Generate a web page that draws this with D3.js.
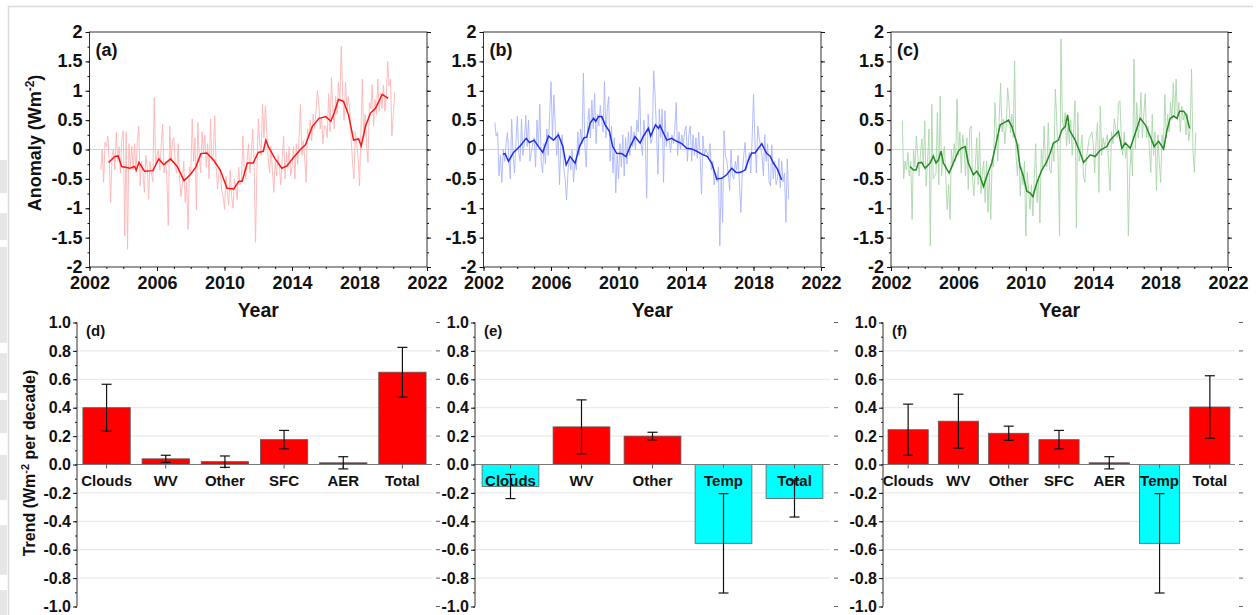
<!DOCTYPE html>
<html><head><meta charset="utf-8">
<script src="https://cdn.jsdelivr.net/npm/d3@7"></script>
<style>
html,body{margin:0;padding:0;background:#fff;}
svg{display:block;font-family:"Liberation Sans",Arial,Helvetica,sans-serif;font-weight:bold;}
</style></head><body>
<svg id="chart" width="1260" height="615"></svg>
<script>
// ---------------- DATA ----------------
// monthly anomalies, Sep 2002 .. Feb 2020
const rawStart = 2002.67;
const rawA = [
 -0.34, 0.00, -0.56, 0.12,
 0.05, 0.23, -0.20, -0.90, -0.10, 0.00, -0.35, 0.29, -0.20, 0.05, -0.40, 0.20,
 0.32, -1.47, 0.30, -1.70, 0.10, -0.30, 0.05, -0.35, 0.10, -0.40, 0.15, 0.40,
 -0.62, -0.20, -0.40, -0.73, -0.10, -0.30, -0.85, -0.20, -0.40, -0.55, 0.88, -0.25,
 -0.10, 0.00, -0.35, 0.10, 0.43, -0.40, -0.20, -0.50, -1.30, 0.40, -0.20, 0.15,
 0.20, -0.30, -0.40, 0.10, -0.50, -0.80, -0.60, -0.20, -0.90, -0.55, -1.36, -0.30,
 -0.40, 0.52, -0.20, 0.20, -1.03, 0.46, -0.10, -0.40, 0.30, -0.05, 0.25, -0.30,
 0.10, -0.50, 0.52, -0.20, -0.10, 0.57, -0.30, -0.67, -0.40, -0.35, -0.70, -0.80,
 -1.02, -0.45, -0.75, -0.95, -0.35, -0.80, -1.00, -0.50, -0.65, -0.85, -0.30, -0.60,
 -0.55, 0.23, -0.30, -0.50, -0.20, 0.10, -0.40, -0.10, 0.35, -0.20, -1.58, -0.35,
 0.52, 0.10, -0.10, 0.77, 0.20, 0.74, 0.30, -0.15, -0.40, 0.05, -0.35, -0.73,
 -0.20, -0.45, -0.10, -0.28, -0.60, -0.15, 0.23, -0.50, -0.05, -0.30, 0.05, -0.45,
 -0.30, 0.05, -0.50, 0.10, -0.25, 0.20, 0.77, -0.10, 0.15, -0.15, -0.56, 0.35,
 0.20, 0.50, 0.15, 0.60, 0.35, 0.65, 1.00, 0.80, 0.35, 0.55, 0.10, 0.40,
 0.40, 0.20, 0.95, 0.30, 1.22, 0.70, 0.35, 0.90, 0.60, 1.14, 0.85, 1.76,
 0.90, 0.50, 1.15, 0.65, 0.90, 0.70, 0.20, -0.22, -0.50, 0.30, 0.10, -0.15,
 -0.62, 0.30, 1.20, 0.20, 0.60, 0.10, -0.22, 0.80, 0.70, 1.10, 0.40, 0.85,
 0.60, 1.20, 0.65, 0.95, 0.70, 1.10, 0.65, 0.90, 1.50, 1.08, 1.20, 0.23,
 0.60, 0.97
];
const rawB = [
 0.46, 0.23, 0.29, -0.45,
 -0.10, -0.56, 0.00, -0.20, 0.10, 0.29, -0.15, -0.50, 0.52, -0.10, -0.40, 0.10,
 0.57, -0.05, -0.20, 0.52, -0.10, 0.10, 0.58, 0.05, 0.50, -0.20, -0.05, 0.10,
 0.20, -0.30, 0.50, 0.05, 0.77, -0.20, -0.40, 0.10, -0.25, 0.35, -0.10, 0.60,
 1.15, 0.20, 0.93, 0.39, -0.10, 0.30, -0.60, 0.10, 0.25, -0.30, -0.50, -0.86,
 -0.40, -0.10, -0.35, 0.00, -0.55, -0.20, -0.35, 0.30, -0.10, 0.35, 0.10, 1.30,
 0.10, -0.30, 0.40, 0.70, 0.20, 0.84, 0.35, 0.96, 0.10, 0.60, 0.40, 0.75,
 0.50, 0.30, 1.16, 0.20, 0.70, 0.90, -0.20, 0.40, -0.40, 0.20, -0.74, -0.10,
 -0.50, 0.10, -0.30, 0.25, -0.45, 0.20, -0.25, 0.30, -0.10, 0.40, 0.05, 0.30,
 0.00, 0.50, 0.30, 1.06, 0.10, -0.10, 0.50, 0.20, -0.83, 0.60, 0.30, 0.10,
 0.20, 1.34, 0.91, 0.29, -0.42, 0.69, 0.20, 0.69, -0.56, 0.66, 0.05, 0.30,
 0.15, -0.05, 0.25, 0.10, 0.35, 0.80, -0.10, 0.30, 0.00, 0.25, 0.10, 0.30,
 0.40, -0.20, 0.25, 0.40, -0.20, 0.25, -0.10, 0.20, -0.15, 0.30, -0.10, -0.76,
 0.23, -0.10, 0.00, -0.05, -0.15, 0.10, -0.35, -0.20, -0.60, -0.40, -0.55, -0.30,
 -1.64, -0.50, -1.24, 0.32, -0.10, -0.20, -0.40, -0.70, 0.00, -0.45, -0.50, -0.20,
 -0.35, -0.10, -0.60, -1.07, -0.40, -0.10, 0.12, -0.35, -0.20, -0.05, -0.40, 0.20,
 0.94, 0.15, -0.40, 0.40, 0.20, 0.05, -0.10, -0.45, 0.25, -0.20, 0.10, -0.55,
 -0.62, 0.08, -0.50, -0.20, -0.60, -0.50, -0.15, -0.65, -0.20, -0.55, -0.40, -1.24,
 -0.16, -0.85
];
const rawC = [
 0.49, -0.50, -0.20, -0.35,
 -0.05, -0.45, -0.20, -1.19, 0.00, -0.30, 0.23, -0.10, -0.45, -0.05, 0.18, -0.30,
 0.49, -0.62, -0.20, 0.35, -1.64, 0.77, -0.50, -0.45, -0.40, 0.63, -0.60, 0.91,
 -0.45, -0.10, 0.05, -0.50, -1.02, -0.60, -1.19, 0.00, -0.30, 0.10, -0.20, 0.86,
 -0.10, 0.30, -0.40, 0.25, 0.05, -0.45, 0.20, -0.68, 0.35, 0.40, -0.50, -0.79,
 -0.30, 0.20, -0.60, 0.30, -0.75, -0.40, -0.20, -0.90, -0.20, -1.07, -0.40, -1.19,
 -0.16, -0.30, 0.80, 0.29, -0.20, 0.50, 1.13, 0.30, 0.52, 0.10, 0.40, 1.05,
 0.80, 0.29, 0.60, 0.20, 1.51, -0.10, -0.45, 0.10, -0.79, -0.30, -0.60, -0.20,
 -1.47, -0.39, -0.70, -1.02, -0.60, -1.13, -0.50, 0.10, -0.90, -0.45, -1.25, 0.00,
 -0.30, 0.40, -0.25, -0.30, 0.46, -0.35, -0.40, 0.10, -0.20, 1.03, 0.50, -0.20,
 -1.47, 1.88, 0.52, 0.35, 0.63, 0.06, 0.45, 0.10, 0.50, -0.10, 0.30, 0.83,
 -1.33, 0.63, -0.20, 0.00, 0.25, -0.45, -0.56, -0.15, 0.00, 0.18, 0.23, 0.30,
 0.10, -0.40, 0.15, 0.46, -0.73, 0.74, -0.10, 0.20, 0.05, 0.15, 0.25, -0.30,
 -0.70, 0.30, 0.10, 0.52, 0.35, 0.20, 0.80, 0.83, 0.20, -0.10, 0.30, -0.15,
 0.05, -1.47, -0.40, 0.00, -0.45, 1.54, 0.00, 0.80, 0.20, 0.45, 0.97, 0.20,
 0.60, 0.95, 0.20, 0.40, 0.00, -0.39, 0.60, -0.10, 0.30, -0.70, 0.25, -0.20,
 -0.56, 0.25, 0.00, 0.94, 0.20, 0.60, 0.30, 0.80, 0.50, 1.14, 0.55, 1.20,
 0.50, 0.80, 0.30, 0.74, 0.50, 0.60, 0.25, 0.60, 0.15, 0.35, 1.37, 0.00,
 -0.39, 0.29
];
// 12-month running means (read at breakpoints)
const smoothYearsA = [2003.13,2003.5,2003.7,2003.9,2004.4,2004.67,2004.77,2004.93,2005.26,2005.76,2006.1,2006.4,2006.8,2007.2,2007.6,2007.97,2008.3,2008.6,2008.95,2009.35,2009.75,2010.15,2010.55,2010.85,2011.05,2011.35,2011.7,2012.0,2012.3,2012.45,2012.6,2013.0,2013.4,2013.7,2014.1,2014.5,2014.8,2015.2,2015.6,2016.0,2016.3,2016.5,2016.75,2017.05,2017.35,2017.65,2017.95,2018.1,2018.35,2018.65,2018.95,2019.35,2019.7];
const smoothA = [-0.22,-0.12,-0.11,-0.29,-0.32,-0.29,-0.35,-0.22,-0.37,-0.36,-0.16,-0.26,-0.16,-0.29,-0.53,-0.43,-0.30,-0.07,-0.06,-0.18,-0.35,-0.66,-0.67,-0.54,-0.54,-0.23,-0.23,-0.05,-0.03,0.16,0.05,-0.16,-0.32,-0.28,-0.13,0.00,0.08,0.39,0.53,0.56,0.48,0.62,0.85,0.82,0.59,0.16,0.18,0.06,0.39,0.62,0.70,0.94,0.87];
const smoothYearsB = [2003.15,2003.28,2003.48,2003.78,2004.17,2004.53,2004.72,2005.0,2005.26,2005.51,2005.85,2006.15,2006.44,2006.7,2006.9,2007.13,2007.43,2007.69,2007.96,2008.12,2008.32,2008.52,2008.65,2008.81,2009.01,2009.21,2009.46,2009.66,2009.9,2010.19,2010.45,2010.69,2010.98,2011.28,2011.48,2011.77,2011.91,2012.19,2012.37,2012.46,2012.86,2013.15,2013.45,2013.75,2014.04,2014.34,2014.64,2014.93,2015.27,2015.52,2015.82,2016.12,2016.41,2016.71,2016.97,2017.2,2017.5,2017.7,2017.89,2018.09,2018.49,2018.78,2018.98,2019.18,2019.41,2019.67];
const smoothB = [-0.08,-0.07,-0.20,-0.05,0.06,0.19,0.12,0.16,0.05,-0.05,0.23,0.16,0.25,0.05,-0.26,-0.12,-0.23,0.05,0.20,0.21,0.45,0.53,0.48,0.56,0.56,0.42,0.31,0.05,-0.07,-0.07,-0.12,0.05,0.22,0.11,0.23,0.36,0.23,0.42,0.36,0.41,0.16,0.19,0.14,0.10,0.02,0.01,-0.03,-0.08,-0.12,-0.23,-0.50,-0.49,-0.43,-0.32,-0.39,-0.39,-0.35,-0.18,-0.06,-0.06,0.10,-0.07,-0.11,-0.23,-0.33,-0.52];
const smoothYearsC = [2003.13,2003.33,2003.49,2003.62,2003.82,2004.02,2004.32,2004.51,2004.67,2004.81,2004.97,2005.11,2005.45,2005.7,2006.0,2006.16,2006.4,2006.59,2006.89,2007.09,2007.29,2007.49,2007.68,2007.98,2008.28,2008.48,2008.67,2008.97,2009.17,2009.47,2009.66,2009.86,2010.06,2010.26,2010.42,2010.65,2010.95,2011.21,2011.45,2011.64,2011.94,2012.14,2012.34,2012.48,2012.59,2012.93,2013.23,2013.43,2013.82,2014.12,2014.42,2014.81,2015.01,2015.31,2015.5,2015.7,2015.9,2016.2,2016.5,2016.79,2017.09,2017.39,2017.62,2017.88,2018.18,2018.38,2018.57,2018.77,2018.97,2019.13,2019.37,2019.52,2019.72];
const smoothC = [-0.29,-0.35,-0.35,-0.23,-0.22,-0.32,-0.23,-0.11,-0.23,-0.18,-0.03,-0.23,-0.40,-0.23,-0.03,0.02,0.05,-0.23,-0.43,-0.37,-0.46,-0.63,-0.46,-0.23,0.16,0.42,0.45,0.50,0.39,0.11,-0.29,-0.46,-0.71,-0.74,-0.80,-0.57,-0.35,-0.23,-0.06,0.11,0.16,0.33,0.39,0.59,0.33,0.16,-0.06,-0.22,-0.09,-0.12,-0.01,0.05,0.16,0.25,0.31,0.02,0.11,0.02,0.28,0.53,0.42,0.22,0.05,0.14,0.01,0.33,0.53,0.57,0.53,0.65,0.65,0.59,0.36];

const anomTicks = [-2,-1.5,-1,-0.5,0,0.5,1,1.5,2];
const yearTicks = [2002,2006,2010,2014,2018,2022];

// trend bars
const catsD = ["Clouds","WV","Other","SFC","AER","Total"];
const valsD = [0.40, 0.04, 0.02, 0.175, 0.012, 0.65];
const errD  = [0.165, 0.025, 0.04, 0.065, 0.043, 0.175];
const catsE = ["Clouds","WV","Other","Temp","Total"];
const valsE = [-0.155, 0.265, 0.20, -0.555, -0.24];
const errE  = [0.085, 0.19, 0.027, 0.35, 0.13];
const catsF = ["Clouds","WV","Other","SFC","AER","Temp","Total"];
const valsF = [0.245, 0.305, 0.22, 0.175, 0.012, -0.555, 0.405];
const errF  = [0.18, 0.19, 0.05, 0.065, 0.043, 0.35, 0.22];
const trendTicks = [-1.0,-0.8,-0.6,-0.4,-0.2,0.0,0.2,0.4,0.6,0.8,1.0];

// ---------------- DRAW ----------------
const FONT = '"Liberation Sans", Arial, Helvetica, sans-serif';
const svg = d3.select("#chart");
svg.append("rect").attr("width",1260).attr("height",615).attr("fill","#fff");

// page frame (screenshot border)
const stripBlocks = [[160,193],[213,240],[247,343],[353,393],[400,433],[455,500],[525,575],[590,615]];
svg.selectAll("rect.strip").data(stripBlocks).join("rect").attr("class","strip")
  .attr("x",0).attr("width",7).attr("y",d=>d[0]).attr("height",d=>d[1]-d[0]).attr("fill","#e6e6e6");
svg.append("path").attr("d","M8.5,615V6.5H1253").attr("fill","none").attr("stroke","#dadada").attr("stroke-width",1.5);

function styleAxis(g, size){
  g.attr("font-family",FONT).attr("font-size",size).attr("font-weight","bold").attr("color","#111");
  g.select(".domain").remove();
}

// ---- top panels ----
const topPanels = [
  {label:"(a)", raw:rawA, sy:smoothYearsA, sv:smoothA, rawColor:"#ffb4b4", smColor:"#ff1414", x0:89.5, x1:427, title:true},
  {label:"(b)", raw:rawB, sy:smoothYearsB, sv:smoothB, rawColor:"#aab6ff", smColor:"#1f2ee8", x0:483.5, x1:821, title:false},
  {label:"(c)", raw:rawC, sy:smoothYearsC, sv:smoothC, rawColor:"#a9d6a9", smColor:"#228b22", x0:891, x1:1228, title:false}
];
const yTop = d3.scaleLinear().domain([-2,2]).range([267,32]);
const minorAnom = d3.range(-8,9).map(k=>k*0.25);
const minorYears = d3.range(2002,2023);

topPanels.forEach(p=>{
  const x = d3.scaleLinear().domain([2002,2022]).range([p.x0,p.x1]);
  const g = svg.append("g");
  g.append("line").attr("x1",p.x0).attr("x2",p.x1).attr("y1",yTop(0)).attr("y2",yTop(0))
    .attr("stroke","#d2d2d2").attr("stroke-width",1);
  const rawPts = p.raw.map((v,i)=>[rawStart+i/12, v]);
  g.append("path").datum(rawPts)
    .attr("d", d3.line().x(d=>x(d[0])).y(d=>yTop(d[1])))
    .attr("fill","none").attr("stroke",p.rawColor).attr("stroke-width",0.9);
  const sm = p.sy.map((t,i)=>[t,p.sv[i]]);
  g.append("path").datum(sm)
    .attr("d", d3.line().x(d=>x(d[0])).y(d=>yTop(d[1])))
    .attr("fill","none").attr("stroke",p.smColor).attr("stroke-width",1.5);
  g.append("rect").attr("x",p.x0).attr("y",32).attr("width",p.x1-p.x0).attr("height",235)
    .attr("fill","none").attr("stroke","#333").attr("stroke-width",1);

  // left axis
  const gl = g.append("g").attr("transform",`translate(${p.x0},0)`)
    .call(d3.axisLeft(yTop).tickValues(anomTicks).tickFormat(d=>String(d)).tickSize(4).tickPadding(3));
  styleAxis(gl,18);
  gl.selectAll(".tick text").attr("dy","0.3em");
  const glm = g.append("g").attr("transform",`translate(${p.x0},0)`)
    .call(d3.axisLeft(yTop).tickValues(minorAnom).tickFormat("").tickSize(2));
  styleAxis(glm,10);
  // right axis ticks
  const gr = g.append("g").attr("transform",`translate(${p.x1},0)`)
    .call(d3.axisRight(yTop).tickValues(anomTicks).tickFormat("").tickSize(4));
  styleAxis(gr,10);
  const grm = g.append("g").attr("transform",`translate(${p.x1},0)`)
    .call(d3.axisRight(yTop).tickValues(minorAnom).tickFormat("").tickSize(2));
  styleAxis(grm,10);
  // bottom axis
  const gb = g.append("g").attr("transform",`translate(0,267)`)
    .call(d3.axisBottom(x).tickValues(yearTicks).tickFormat(d=>String(d)).tickSize(4).tickPadding(5));
  styleAxis(gb,18);
  const gbm = g.append("g").attr("transform",`translate(0,267)`)
    .call(d3.axisBottom(x).tickValues(minorYears).tickFormat("").tickSize(2));
  styleAxis(gbm,10);

  g.append("text").attr("x",p.x0+6).attr("y",56).attr("font-size",18).attr("fill","#111").text(p.label);
  g.append("text").attr("x",(p.x0+p.x1)/2).attr("y",317).attr("text-anchor","middle")
    .attr("font-size",19.5).attr("fill","#111").text("Year");
  if(p.title){
    const t = g.append("text").attr("transform","translate(41,143) rotate(-90)")
      .attr("text-anchor","middle").attr("font-size",18).attr("fill","#111");
    t.append("tspan").text("Anomaly (Wm");
    t.append("tspan").attr("font-size",12).attr("dy",-7).text("-2");
    t.append("tspan").attr("dy",7).text(")");
  }
});

// ---- bar panels ----
const barPanels = [
  {label:"(d)", cats:catsD, vals:valsD, errs:errD, ax:77, xr:432, title:true},
  {label:"(e)", cats:catsE, vals:valsE, errs:errE, ax:475, xr:830, title:false},
  {label:"(f)", cats:catsF, vals:valsF, errs:errF, ax:883, xr:1235, title:false}
];
const yBar = d3.scaleLinear().domain([-1,1]).range([606.5,322.5]);
const minorTrend = d3.range(-10,11).map(k=>k*0.1);

barPanels.forEach(p=>{
  const x = d3.scaleBand().domain(p.cats).range([p.ax,p.xr]).paddingInner(0.2).paddingOuter(0.1);
  const g = svg.append("g");
  const rows = p.cats.map((c,i)=>({c, v:p.vals[i], e:p.errs[i]}));
  // gridlines
  g.selectAll("line.grid").data(trendTicks.filter(v=>Math.abs(v)>0.01 && Math.abs(v)<0.99)).join("line")
    .attr("x1",p.ax).attr("x2",p.xr).attr("y1",d=>yBar(d)).attr("y2",d=>yBar(d))
    .attr("stroke","#e6e6e6").attr("stroke-width",1);
  // bars
  g.selectAll("rect.bar").data(rows).join("rect")
    .attr("x",d=>x(d.c)).attr("width",x.bandwidth())
    .attr("y",d=>yBar(Math.max(0,d.v))).attr("height",d=>Math.abs(yBar(d.v)-yBar(0)))
    .attr("fill",d=>d.v>=0?"#ff0000":"#00ffff").attr("stroke","#5a5a5a").attr("stroke-width",0.8);
  // zero line
  g.append("line").attr("x1",p.ax).attr("x2",p.xr).attr("y1",yBar(0)).attr("y2",yBar(0))
    .attr("stroke","#7a7a7a").attr("stroke-width",1.2);
  // category ticks
  g.selectAll("line.ct").data(rows).join("line")
    .attr("x1",d=>x(d.c)+x.bandwidth()/2).attr("x2",d=>x(d.c)+x.bandwidth()/2)
    .attr("y1",yBar(0)).attr("y2",yBar(0)+4).attr("stroke","#555").attr("stroke-width",1);
  // error bars
  const eg = g.selectAll("g.err").data(rows).join("g").attr("stroke","#111").attr("stroke-width",1.2);
  eg.append("line").attr("x1",d=>x(d.c)+x.bandwidth()/2).attr("x2",d=>x(d.c)+x.bandwidth()/2)
    .attr("y1",d=>yBar(d.v+d.e)).attr("y2",d=>yBar(d.v-d.e));
  eg.append("line").attr("x1",d=>x(d.c)+x.bandwidth()/2-5).attr("x2",d=>x(d.c)+x.bandwidth()/2+5)
    .attr("y1",d=>yBar(d.v+d.e)).attr("y2",d=>yBar(d.v+d.e));
  eg.append("line").attr("x1",d=>x(d.c)+x.bandwidth()/2-5).attr("x2",d=>x(d.c)+x.bandwidth()/2+5)
    .attr("y1",d=>yBar(d.v-d.e)).attr("y2",d=>yBar(d.v-d.e));
  // axis
  const gl = g.append("g").attr("transform",`translate(${p.ax},0)`)
    .call(d3.axisLeft(yBar).tickValues(trendTicks).tickFormat(d=>d.toFixed(1)).tickSize(4).tickPadding(2));
  styleAxis(gl,16);
  const glm = g.append("g").attr("transform",`translate(${p.ax},0)`)
    .call(d3.axisLeft(yBar).tickValues(minorTrend).tickFormat("").tickSize(2));
  styleAxis(glm,10);
  g.append("line").attr("x1",p.ax).attr("x2",p.ax).attr("y1",yBar(1)).attr("y2",yBar(-1))
    .attr("stroke","#333").attr("stroke-width",1);
  // right-side tick stubs
  g.selectAll("line.rt").data(trendTicks).join("line")
    .attr("x1",p.xr+4).attr("x2",p.xr+8).attr("y1",d=>yBar(d)).attr("y2",d=>yBar(d))
    .attr("stroke","#666").attr("stroke-width",1);
  // category labels
  g.selectAll("text.cat").data(rows).join("text")
    .attr("x",d=>x(d.c)+x.bandwidth()/2).attr("y",486).attr("text-anchor","middle")
    .attr("font-size",15).attr("fill","#111").text(d=>d.c);
  g.append("text").attr("x",p.ax+9).attr("y",336).attr("font-size",15).attr("fill","#111").text(p.label);
  if(p.title){
    const t = g.append("text").attr("transform","translate(35,463) rotate(-90)")
      .attr("text-anchor","middle").attr("font-size",16).attr("fill","#111");
    t.append("tspan").text("Trend (Wm");
    t.append("tspan").attr("font-size",11).attr("dy",-6).text("-2");
    t.append("tspan").attr("dy",6).text(" per decade)");
  }
});
</script></body></html>
